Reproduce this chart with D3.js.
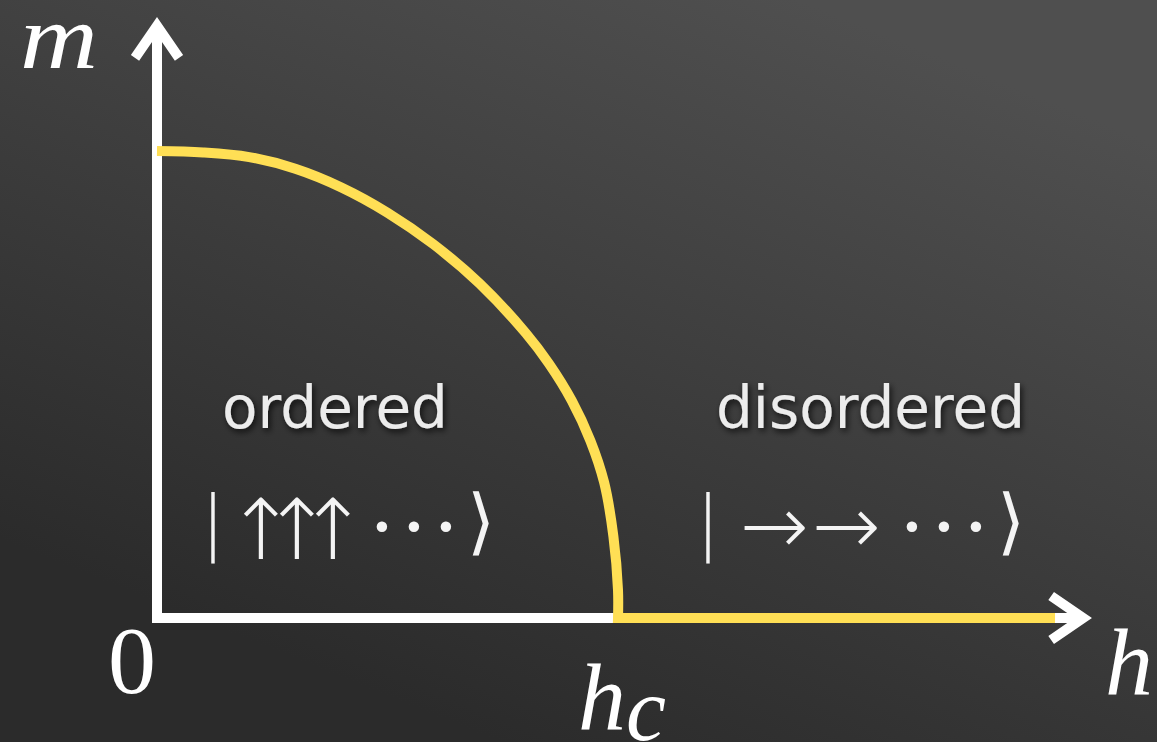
<!DOCTYPE html>
<html>
<head>
<meta charset="utf-8">
<script src="https://cdn.jsdelivr.net/npm/d3@7"></script>
<style>
  html, body { margin: 0; padding: 0; background: #333; }
  svg { display: block; }
</style>
</head>
<body>
<svg id="chart" width="1157" height="742"></svg>
<script>
// Order parameter m versus transverse field h (in units of h_c)
const arcH = [0, 0.1, 0.2, 0.3, 0.4, 0.5, 0.6, 0.7, 0.8, 0.85, 0.9, 0.94, 0.97, 0.99, 1.0, 1.0];
const arcM = [1.0, 0.997, 0.987, 0.962, 0.922, 0.868, 0.8, 0.716, 0.61, 0.545, 0.465, 0.38, 0.29, 0.175, 0.06, 0];
// Disordered branch: m stays zero beyond h_c
const tailH = [1.0, 1.948];
const tailM = [0, 0];

// Axis extents (data units) and labels
const axisMaxH = 2.009;
const axisMaxM = 1.268;
const labelM = "m";
const labelH = "h";
const labelHc = ["h", "c"];
const labelZero = "0";
const phaseNames = ["ordered", "disordered"];
const ketOrdered = ["|", "↑", "↑", "↑", "·", "·", "·", "⟩"];
const ketDisordered = ["|", "→", "→", "·", "·", "·", "⟩"];

const svg = d3.select("#chart");
const W = 1157, H = 742;

const x = d3.scaleLinear().domain([0, 1]).range([157, 618]);
const y = d3.scaleLinear().domain([0, 1]).range([618, 151]);

// background
const defs = svg.append("defs");
const bg = defs.append("linearGradient").attr("id", "bg")
  .attr("gradientUnits", "userSpaceOnUse")
  .attr("x1", 500).attr("y1", H).attr("x2", 800).attr("y2", 0);
bg.append("stop").attr("offset", "0%").attr("stop-color", "#2b2b2b");
bg.append("stop").attr("offset", "100%").attr("stop-color", "#4f4f4f");

const shadow = defs.append("filter").attr("id", "shadow")
  .attr("x", "-20%").attr("y", "-30%").attr("width", "140%").attr("height", "160%");
shadow.append("feDropShadow").attr("dx", 2).attr("dy", 3)
  .attr("stdDeviation", 3).attr("flood-color", "#000").attr("flood-opacity", 0.75);

svg.append("rect").attr("width", W).attr("height", H).attr("fill", "url(#bg)");

// axes with open arrowheads
const axisG = svg.append("g")
  .attr("fill", "none").attr("stroke", "#ffffff").attr("stroke-width", 10);

const ox = x(0), oy = y(0);
const yTip = y(axisMaxM), xTip = x(axisMaxH);
axisG.append("path")
  .attr("stroke-linejoin", "miter")
  .attr("d", `M${ox},${yTip} L${ox},${oy} L${xTip},${oy}`);
axisG.append("path")
  .attr("stroke-linejoin", "miter").attr("stroke-miterlimit", 10)
  .attr("d", `M${ox - 22},${yTip + 32} L${ox},${yTip} L${ox + 22},${yTip + 32}`);
axisG.append("path")
  .attr("stroke-linejoin", "miter").attr("stroke-miterlimit", 10)
  .attr("d", `M${xTip - 32},${oy - 22} L${xTip},${oy} L${xTip - 32},${oy + 22}`);

// m(h) curve
const arcPts = arcH.map((h, i) => [h, arcM[i]]);
const tailPts = tailH.map((h, i) => [h, tailM[i]]);
const arcLine = d3.line().x(d => x(d[0])).y(d => y(d[1]))
  .curve(d3.curveCatmullRom.alpha(0.5));
const tailLine = d3.line().x(d => x(d[0])).y(d => y(d[1]));
svg.append("path")
  .attr("fill", "none").attr("stroke", "#ffdf55").attr("stroke-width", 10)
  .attr("stroke-linejoin", "miter")
  .attr("d", arcLine(arcPts) + tailLine(tailPts).replace(/^M/, "L"));

// axis labels
const mathFont = "'Liberation Serif', 'DejaVu Serif', serif";
svg.append("text").text(labelM)
  .attr("x", 20).attr("y", 68)
  .attr("font-family", mathFont).attr("font-style", "italic")
  .attr("font-size", 92).attr("fill", "#fff")
  .attr("textLength", 78).attr("lengthAdjust", "spacingAndGlyphs");
svg.append("text").text(labelZero)
  .attr("x", 108).attr("y", 693)
  .attr("font-family", mathFont)
  .attr("font-size", 96).attr("fill", "#fff");
svg.append("text").text(labelH)
  .attr("x", 1105).attr("y", 695)
  .attr("font-family", mathFont).attr("font-style", "italic")
  .attr("font-size", 96).attr("fill", "#fff");
const hc = svg.append("text")
  .attr("x", 578).attr("y", 730)
  .attr("font-family", mathFont).attr("font-style", "italic")
  .attr("font-size", 96).attr("fill", "#fff");
hc.append("tspan").text(labelHc[0]);
hc.append("tspan").attr("dy", 10).attr("font-size", 90).text(labelHc[1]);

// phase names
const phaseX = [222, 716];
svg.selectAll("text.phase").data(phaseNames).join("text")
  .attr("class", "phase")
  .attr("x", (d, i) => phaseX[i]).attr("y", 428)
  .attr("font-family", "'DejaVu Sans', sans-serif")
  .attr("font-size", 58).attr("fill", "#ececec")
  .attr("filter", "url(#shadow)")
  .text(d => d);

// spin-state kets: one text per ket, one tspan per glyph
const glyphStyle = {
  "|": { size: 72, base: 546, font: "'DejaVu Sans', sans-serif" },
  "⟩": { size: 72, base: 546, font: "'DejaVu Sans', sans-serif" },
  "↑": { size: 84, base: 559, font: "'DejaVu Sans', sans-serif" },
  "→": { size: 82, base: 554, font: "'DejaVu Sans', sans-serif" },
  "·": { size: 88, base: 556, font: "'Liberation Serif', serif" }
};
function ket(glyphs, xs) {
  const t = svg.append("text")
    .attr("text-anchor", "middle")
    .attr("font-weight", 200)
    .attr("fill", "#f4f4f4");
  glyphs.forEach((g, i) => {
    const s = glyphStyle[g];
    t.append("tspan")
      .attr("x", xs[i]).attr("y", s.base)
      .attr("font-size", s.size)
      .attr("font-family", s.font)
      .text(g);
  });
}
ket(ketOrdered, [213, 261, 297, 333, 382, 414, 446, 481]);
ket(ketDisordered, [708, 774, 846, 912, 944, 976, 1011]);
</script>
</body>
</html>
